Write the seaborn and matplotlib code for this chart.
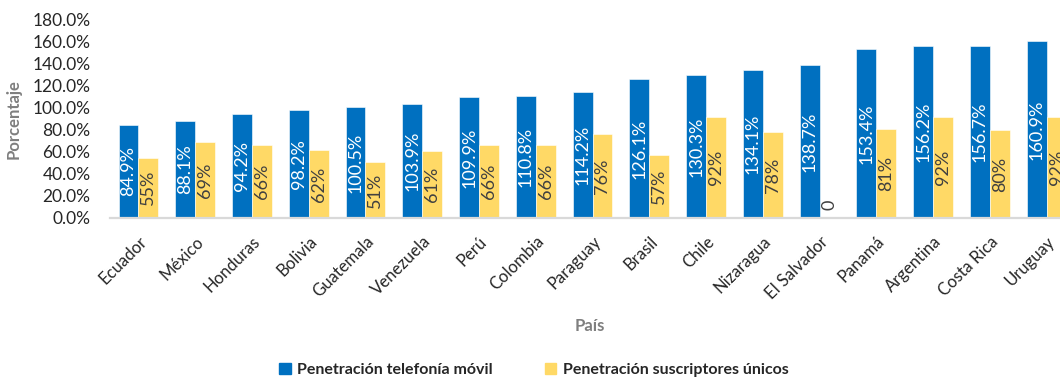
import matplotlib
matplotlib.use("Agg")
import matplotlib.pyplot as plt
import matplotlib.patches as mpatches
import seaborn as sns
import pandas as pd

paises = ["Ecuador", "México", "Honduras", "Bolivia", "Guatemala", "Venezuela",
          "Perú", "Colombia", "Paraguay", "Brasil", "Chile", "Nizaragua",
          "El Salvador", "Panamá", "Argentina", "Costa Rica", "Uruguay"]
movil = [84.9, 88.1, 94.2, 98.2, 100.5, 103.9, 109.9, 110.8, 114.2, 126.1,
         130.3, 134.1, 138.7, 153.4, 156.2, 156.7, 160.9]
unicos = [55, 69, 66, 62, 51, 61, 66, 66, 76, 57, 92, 78, 0, 81, 92, 80, 92]
series = ["Penetración telefonía móvil", "Penetración suscriptores únicos"]
y_ticks = [0, 20, 40, 60, 80, 100, 120, 140, 160, 180]

AZUL = "#0070C0"
AMARILLO = "#FFD966"

sns.set_theme(style="white")
plt.rcParams["font.family"] = ["Lato", "DejaVu Sans"]

df = pd.DataFrame({
    "País": paises * 2,
    "Valor": movil + unicos,
    "Serie": [series[0]] * len(paises) + [series[1]] * len(paises),
})

fig = plt.figure(figsize=(10.6, 3.77), dpi=100)
ax = fig.add_axes([110 / 1060, 159 / 377, 965 / 1060, 198 / 377])

sns.barplot(data=df, x="País", y="Valor", hue="Serie", order=paises,
            hue_order=series, palette=[AZUL, AMARILLO], width=0.7, gap=0,
            dodge=True, legend=False, ax=ax, saturation=1,
            edgecolor="#FFFFFF", linewidth=0.4)

ax.set_ylim(0, 180)
ax.set_xlim(-0.5, len(paises) - 0.5)
ax.set_yticks(y_ticks)
ax.set_yticklabels([f"{v:.1f}%" for v in y_ticks])
ax.tick_params(axis="y", length=0, labelsize=12.5, pad=14, labelcolor="#262626")
ax.tick_params(axis="x", length=0, labelsize=12, pad=11, labelcolor="#262626")
for lab in ax.get_xticklabels():
    lab.set_rotation(45)
    lab.set_ha("right")
    lab.set_rotation_mode("anchor")

for side in ["left", "right", "top"]:
    ax.spines[side].set_visible(False)
ax.spines["bottom"].set_color("#D9D9D9")
ax.spines["bottom"].set_linewidth(1.6)

# value labels centred inside each bar
cont_movil, cont_unicos = ax.containers[0], ax.containers[1]
for rect, v in zip(cont_movil, movil):
    ax.text(rect.get_x() + rect.get_width() / 2, v / 2, f"{v:.1f}%",
            rotation=90, ha="center", va="center", color="white", fontsize=13)
for rect, v in zip(cont_unicos, unicos):
    x = rect.get_x() + rect.get_width() / 2
    if v == 0:
        ax.annotate("0", (x, 0), xytext=(0, 6), textcoords="offset points",
                    rotation=90, ha="center", va="bottom", color="#404040",
                    fontsize=13)
    else:
        ax.text(x, v / 2, f"{v:.0f}%", rotation=90, ha="center", va="center",
                color="#404040", fontsize=13)

ax.set_xlabel("País", fontsize=12, fontweight="bold", color="#7F7F7F")
ax.set_ylabel("Porcentaje", fontsize=12, fontweight="bold", color="#7F7F7F")
ax.xaxis.set_label_coords(480 / 965, -100 / 198)
ax.yaxis.set_label_coords(-88 / 965, 0.5)

handles = [mpatches.Patch(color=AZUL, label=series[0]),
           mpatches.Patch(color=AMARILLO, label=series[1])]
fig.legend(handles=handles, loc="center", bbox_to_anchor=(534 / 1060, 7 / 377),
           ncol=2, frameon=False, handlelength=0.7, handleheight=0.7,
           handletextpad=0.4, columnspacing=3.3,
           prop={"weight": "bold", "size": 11.5})

fig.savefig("out.png", dpi=100)
